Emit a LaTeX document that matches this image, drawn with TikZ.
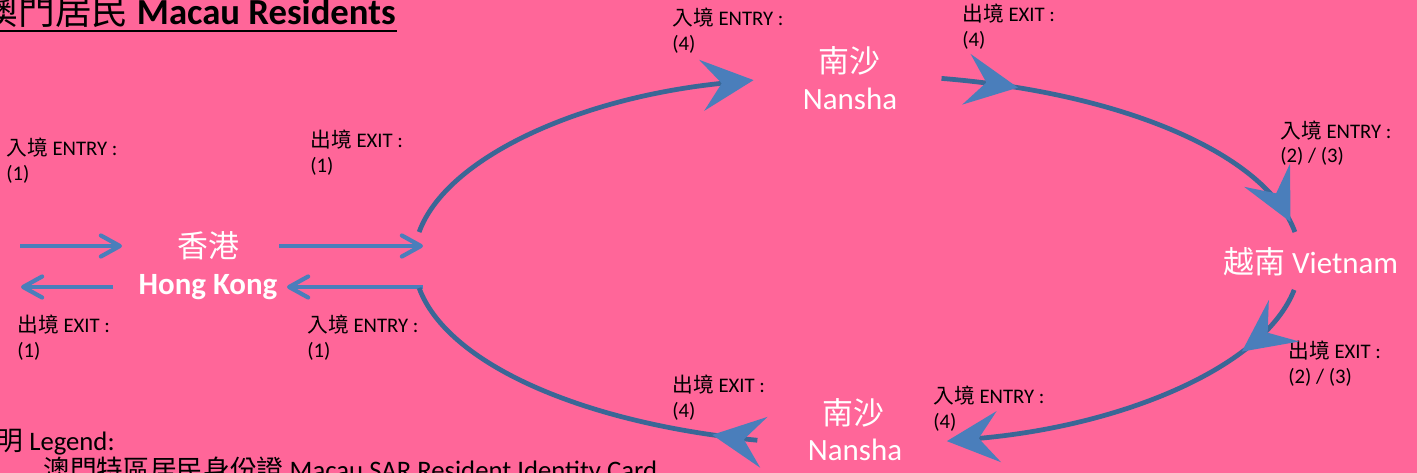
\documentclass[tikz,border=0pt]{standalone}
\usepackage{fontspec}
\setmainfont{Carlito}
\newfontfamily\cjk{Noto Sans CJK TC}
\usetikzlibrary{arrows.meta,decorations.markings}
\definecolor{bgpink}{HTML}{FF6699}
\definecolor{arcblue}{HTML}{3A6796}
\definecolor{headblue}{HTML}{4A7EBB}
\newcommand\ept[2]{\coordinate (#1) at ({857+443*cos(#2)},{260+185*sin(#2)});}
\newcommand\twolbl[5]{\node[lbl] (#1a) at (#2,#3) {#4};\node[lbl] (#1b) at (#2,#3+25) {#5};}
\begin{document}
\begin{tikzpicture}[x=0.02cm,y=-0.02cm,
  bighead/.tip={Stealth[length=1.04cm,width=1.02cm,inset=0.4cm,color=headblue]},
  arcline/.style={draw=arcblue,line width=2.7pt},
  flow/.style={draw=headblue,line width=2.4pt,-{Straight Barb[length=0.38cm,width=0.42cm,round]}},
  lbl/.style={font=\fontsize{11.8}{14}\selectfont,inner sep=0pt,anchor=base west,text=black},
  place/.style={text=white,inner sep=0pt,anchor=base,font=\fontsize{17.6}{20}\selectfont},
  ellarc/.style={x radius=443,y radius=185}]
\useasboundingbox (0,0) rectangle (1417,473);
\fill[bgpink] (0,0) rectangle (1417,473);

% title
\node[anchor=base east,inner sep=0pt,font=\fontsize{20.9}{24}\selectfont] (title) at (396,25) {{\cjk 澳門居民} \textbf{Macau Residents}};
\coordinate (ulA) at (-5,31);
\coordinate (ulB) at (397,31);
\draw[line width=0.9pt] (ulA) -- (ulB);

% legend
\node[anchor=base east,inner sep=0pt,font=\fontsize{15.2}{18}\selectfont] (leg) at (115,450) {{\cjk 說明} Legend:};
\node[anchor=base west,inner sep=0pt,font=\fontsize{15.2}{18}\selectfont] (legid) at (43,479) {{\cjk 澳門特區居民身份證} Macau SAR Resident Identity Card};

% places
\node[place] (hkzh) at (208,257) {{\cjk 香港}};
\node[place,font=\fontsize{17.6}{20}\selectfont\bfseries] (hk) at (208,294) {Hong Kong};
\node[place] (ns1zh) at (849,73) {{\cjk 南沙}};
\node[place] (ns1) at (850,110) {Nansha};
\node[place,anchor=base west] (vn) at (1223,273) {{\cjk 越南} Vietnam};
\node[place] (ns2zh) at (853,424) {{\cjk 南沙}};
\node[place] (ns2) at (855,460) {Nansha};

% labels
\twolbl{l1}{6}{155}{{\cjk 入境} ENTRY :}{(1)}
\twolbl{l2}{310}{148}{{\cjk 出境} EXIT :}{(1)}
\twolbl{l3}{17}{332}{{\cjk 出境} EXIT :}{(1)}
\twolbl{l4}{307}{332}{{\cjk 入境} ENTRY :}{(1)}
\twolbl{l5}{672}{26}{{\cjk 入境} ENTRY :}{(4)}
\twolbl{l6}{962}{22}{{\cjk 出境} EXIT :}{(4)}
\twolbl{l7}{1280}{138}{{\cjk 入境} ENTRY :}{(2) / (3)}
\twolbl{l8}{1288}{358}{{\cjk 出境} EXIT :}{(2) / (3)}
\twolbl{l9}{672}{392}{{\cjk 出境} EXIT :}{(4)}
\twolbl{l10}{933}{403}{{\cjk 入境} ENTRY :}{(4)}

% straight arrows at Hong Kong
\coordinate (in1s) at (20,246);  \coordinate (in1e) at (122,246);
\coordinate (out1s) at (279,246); \coordinate (out1e) at (423,246);
\coordinate (in2s) at (423,287); \coordinate (in2e) at (287,287);
\coordinate (out2s) at (113,287); \coordinate (out2e) at (21,287);
\draw[flow] (in1s) -- (in1e);
\draw[flow] (out1s) -- (out1e);
\draw[flow] (in2s) -- (in2e);
\draw[flow] (out2s) -- (out2e);

% elliptical route
\ept{A0}{-171.3}
\ept{B0}{-79}
\ept{C0}{9.3}
\ept{D0}{103}
\draw[arcline,-bighead] (A0) arc[start angle=-171.3,end angle=-103.5,ellarc];
\draw[arcline,postaction={decorate},decoration={markings,
  mark=at position 1.54cm with {\arrow{bighead}},
  mark=at position -0.22cm with {\arrow{bighead}}}]
  (B0) arc[start angle=-79,end angle=-8.7,ellarc];
\draw[arcline,-bighead,postaction={decorate},decoration={markings,
  mark=at position 1.64cm with {\arrow{bighead}}}]
  (C0) arc[start angle=9.3,end angle=78.3,ellarc];
\draw[arcline,postaction={decorate},decoration={markings,
  mark=at position 0.91cm with {\arrow{bighead}}}]
  (D0) arc[start angle=103,end angle=171.3,ellarc];
\end{tikzpicture}
\end{document}
